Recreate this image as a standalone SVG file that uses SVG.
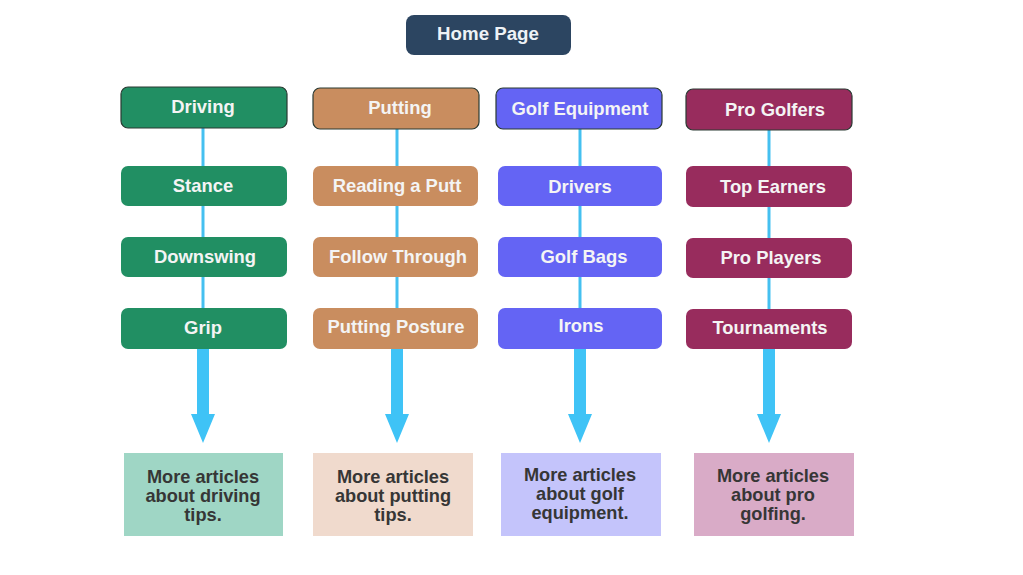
<svg xmlns="http://www.w3.org/2000/svg" width="1023" height="575" viewBox="0 0 1023 575">
<defs>
<style>
text{font-family:"Liberation Sans",Arial,sans-serif;font-weight:bold;text-anchor:middle}
.lbl{font-size:18.4px;fill:#f4f4f4}
.more{font-size:18.2px;fill:#363636}
.g{fill:#218f63}
.t{fill:#c98d5f}
.b{fill:#6464f4}
.m{fill:#982c5d}
.hdr{stroke:#2a3a33;stroke-width:1.2}
.ln{stroke:#45c0f0;stroke-width:3;fill:none}
.arr{fill:#3fc3f6}
</style>
</defs>
<rect width="1023" height="575" fill="#ffffff"/>
<g id="home"><rect x="406" y="15" width="165" height="40" rx="8" fill="#2c4561"/><text x="488" y="40" style="font-size:18.7px;fill:#eef2f6">Home Page</text></g>
<g id="connectors">
<line class="ln" x1="203" y1="128" x2="203" y2="350"/>
<line class="ln" x1="397" y1="129" x2="397" y2="350"/>
<line class="ln" x1="580" y1="129" x2="580" y2="350"/>
<line class="ln" x1="769" y1="130" x2="769" y2="350"/>
<path class="arr" d="M197 349H209V414H215L203 443L191 414H197Z"/>
<path class="arr" d="M391 349H403V414H409L397 443L385 414H391Z"/>
<path class="arr" d="M574 349H586V414H592L580 443L568 414H574Z"/>
<path class="arr" d="M763 349H775V414H781L769 443L757 414H763Z"/>
</g>
<g id="driving"><rect class="g hdr" x="121" y="87" width="166" height="41" rx="7"/><text class="lbl" x="203" y="113">Driving</text></g>
<g id="stance"><rect class="g" x="121" y="166" width="166" height="40" rx="7"/><text class="lbl" x="203" y="192">Stance</text></g>
<g id="downswing"><rect class="g" x="121" y="237" width="166" height="40" rx="7"/><text class="lbl" x="205" y="263">Downswing</text></g>
<g id="grip"><rect class="g" x="121" y="308" width="166" height="41" rx="7"/><text class="lbl" x="203" y="334">Grip</text></g>
<g id="putting"><rect class="t hdr" x="313" y="88" width="166" height="41" rx="7"/><text class="lbl" x="400" y="114">Putting</text></g>
<g id="reading"><rect class="t" x="313" y="166" width="165" height="40" rx="7"/><text class="lbl" x="397" y="192">Reading a Putt</text></g>
<g id="follow"><rect class="t" x="313" y="237" width="165" height="40" rx="7"/><text class="lbl" x="398" y="263">Follow Through</text></g>
<g id="posture"><rect class="t" x="313" y="308" width="165" height="41" rx="7"/><text class="lbl" x="396" y="333">Putting Posture</text></g>
<g id="equipment"><rect class="b hdr" x="496" y="88" width="166" height="41" rx="7"/><text class="lbl" x="580" y="115">Golf Equipment</text></g>
<g id="drivers"><rect class="b" x="498" y="166" width="164" height="40" rx="7"/><text class="lbl" x="580" y="193">Drivers</text></g>
<g id="bags"><rect class="b" x="498" y="237" width="164" height="40" rx="7"/><text class="lbl" x="584" y="263">Golf Bags</text></g>
<g id="irons"><rect class="b" x="498" y="308" width="164" height="41" rx="7"/><text class="lbl" x="581" y="332">Irons</text></g>
<g id="progolfers"><rect class="m hdr" x="686" y="89" width="166" height="41" rx="7"/><text class="lbl" x="775" y="116">Pro Golfers</text></g>
<g id="earners"><rect class="m" x="686" y="166" width="166" height="41" rx="7"/><text class="lbl" x="773" y="193">Top Earners</text></g>
<g id="players"><rect class="m" x="686" y="238" width="166" height="40" rx="7"/><text class="lbl" x="771" y="264">Pro Players</text></g>
<g id="tournaments"><rect class="m" x="686" y="309" width="166" height="40" rx="7"/><text class="lbl" x="770" y="334">Tournaments</text></g>
<g id="more-driving"><rect x="124" y="453" width="159" height="83" fill="#9fd6c5"/><text class="more" x="203" y="483">More articles</text><text class="more" x="203" y="502">about driving</text><text class="more" x="203" y="521">tips.</text></g>
<g id="more-putting"><rect x="313" y="453" width="160" height="83" fill="#f0dacd"/><text class="more" x="393" y="483">More articles</text><text class="more" x="393" y="502">about putting</text><text class="more" x="393" y="521">tips.</text></g>
<g id="more-equipment"><rect x="501" y="453" width="160" height="83" fill="#c4c4fb"/><text class="more" x="580" y="481">More articles</text><text class="more" x="580" y="500">about golf</text><text class="more" x="580" y="519">equipment.</text></g>
<g id="more-pro"><rect x="694" y="453" width="160" height="83" fill="#d9abc7"/><text class="more" x="773" y="482">More articles</text><text class="more" x="773" y="501">about pro</text><text class="more" x="773" y="520">golfing.</text></g>
</svg>
